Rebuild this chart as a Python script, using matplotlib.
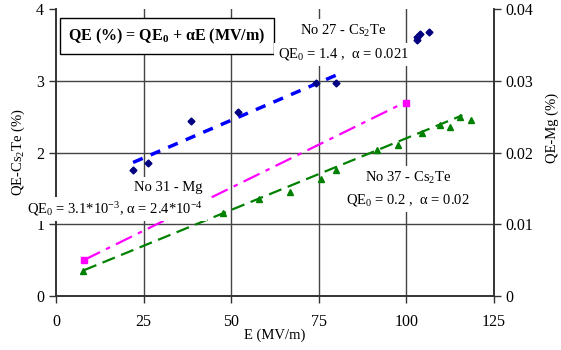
import matplotlib as mpl
mpl.use('Agg')
import matplotlib.pyplot as plt
import numpy as np

plt.rcParams['font.family'] = ['Liberation Serif', 'DejaVu Serif']
plt.rcParams['mathtext.fontset'] = 'custom'
plt.rcParams['mathtext.rm'] = 'Liberation Serif'
plt.rcParams['mathtext.it'] = 'Liberation Serif:italic'
plt.rcParams['mathtext.bf'] = 'Liberation Serif:bold'

# No 27 - Cs2Te measured points
e27 = [22, 26.3, 38.5, 52, 74.2, 80, 103, 103, 103.9, 106.5]
qe27 = [1.76, 1.85, 2.44, 2.56, 2.97, 2.97, 3.57, 3.61, 3.65, 3.68]
# No 27 fit range
fit27_e = [22, 82]
qe0_27, a27 = 1.4, 0.021

# No 31 - Mg points (right axis, %)
e31 = [8, 100]
qe31 = [0.0050, 0.0269]
fit31_e = [8, 100]
qe0_31, a31 = 3.1e-3, 2.4e-4

# No 37 - Cs2Te points
e37 = [7.8, 47.7, 58, 66.8, 75.6, 80, 91.6, 97.6, 104.4, 109.6, 112.4, 115.3, 118.4]
qe37 = [0.35, 1.16, 1.35, 1.45, 1.63, 1.76, 2.03, 2.10, 2.27, 2.38, 2.36, 2.50, 2.45]
fit37_e = [8, 116]
qe0_37, a37 = 0.2, 0.02

fig = plt.figure(figsize=(5.61, 3.5), dpi=100)
ax = fig.add_axes([0.0998, 0.1543, 0.7808, 0.8197])
ax2 = ax.twinx()

gridc = '#444444'
for xv in [25, 50, 75, 100]:
	ax.axvline(xv, color=gridc, lw=1, zorder=0)
for yv in [1, 2, 3]:
	ax.axhline(yv, color=gridc, lw=1, zorder=0)

#fits
f27 = np.array(fit27_e)
ax.plot(f27, qe0_27 + a27*f27, color='#0000ff', ls=(0, (3, 2.5)), lw=2.5, zorder=2)
f37 = np.array(fit37_e)
ax.plot(f37, qe0_37 + a37*f37, color='#008000', ls=(0, (6, 3)), lw=1.6, zorder=2)
f31 = np.array(fit31_e)
ax2.plot(f31, qe0_31 + a31*f31, color='#ff00ff', ls=(0, (8, 3, 2, 3)), lw=1.6, zorder=2)

#points
ax.plot(e27, qe27, 'D', color='#000080', ms=3.5, ls='none', zorder=3)
ax.plot(e37, qe37, '^', color='#008000', ms=4.5, ls='none', zorder=3)
ax2.plot(e31, qe31, 's', color='#ff00ff', ms=5, ls='none', zorder=3)

ax.set_xlim(0, 125)
ax.set_ylim(0, 4)
ax2.set_ylim(0, 0.04)
ax.set_xticks([0, 25, 50, 75, 100, 125])
ax.set_yticks([0, 1, 2, 3, 4])
ax2.set_yticks([0, 0.01, 0.02, 0.03, 0.04])
ax2.set_yticklabels(['0', '0.01', '0.02', '0.03', '0.04'])

for a in (ax, ax2):
	a.tick_params(direction='out', length=5, width=1, labelsize=11.5, color='#333333')
	for sp in a.spines.values():
		sp.set_color('#333333')
		sp.set_linewidth(1.2)
	a.spines['top'].set_visible(False)
ax.tick_params(axis='x', pad=8)

ax.set_xlabel('E (MV/m)', fontsize=10.5)
ax.xaxis.set_label_coords(0.5, -0.115)
ax.set_ylabel('QE-Cs$_2$Te (%)', fontsize=10.5)
ax.yaxis.set_label_coords(-0.066, 0.5)
ax2.set_ylabel('QE-Mg (%)', fontsize=10.5, rotation=90)
ax2.yaxis.set_label_coords(1.118, 0.585)

wbox = dict(facecolor='white', edgecolor='none', pad=2.5)
fig.text(167/561, 1-36/350, 'QE (%) = QE$_\\mathbf{0}$ + \u03b1E (MV/m)', fontsize=11.5,
	fontweight='bold', ha='center', va='center',
	bbox=dict(facecolor='white', edgecolor='black', lw=1, boxstyle='square,pad=0.55'), zorder=10)

fig.text(343/561, 1-31/350, 'No 27 - Cs$_2$Te', fontsize=10.5, ha='center', va='center', bbox=wbox, zorder=10)
fig.text(343/561, 1-54/350, 'QE$_0$ = 1.4 ,  \u03b1 = 0.021', fontsize=10.5, ha='center', va='center', bbox=wbox, zorder=10)

fig.text(203/561, 1-187/350, 'No 31 - Mg', fontsize=10.5, ha='right', va='center', bbox=wbox, zorder=10)
fig.text(203/561, 1-209/350, 'QE$_0$ = 3.1*10$^{-3}$, \u03b1 = 2.4*10$^{-4}$', fontsize=10.5, ha='right', va='center', bbox=wbox, zorder=10)

fig.text(408/561, 1-178/350, 'No 37 - Cs$_2$Te', fontsize=10.5, ha='center', va='center', bbox=wbox, zorder=10)
fig.text(408/561, 1-200/350, 'QE$_0$ = 0.2 ,  \u03b1 = 0.02', fontsize=10.5, ha='center', va='center', bbox=wbox, zorder=10)

fig.savefig('out.png', dpi=100)
